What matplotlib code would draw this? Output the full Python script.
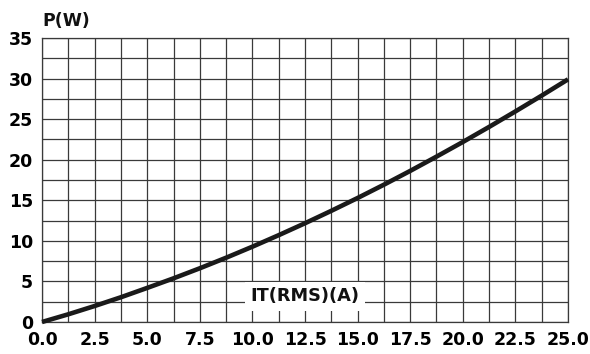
import matplotlib
matplotlib.use("Agg")
import matplotlib.pyplot as plt
import matplotlib.transforms as mtransforms
from matplotlib.ticker import MultipleLocator, FormatStrFormatter

# Data
current_a = [0.0, 1.25, 2.5, 3.75, 5.0, 6.25, 7.5, 8.75, 10.0, 11.25, 12.5,
             13.75, 15.0, 16.25, 17.5, 18.75, 20.0, 21.25, 22.5, 23.75, 25.0]
power_w = [0.0, 0.95, 1.97, 3.05, 4.2, 5.38, 6.62, 7.92, 9.28, 10.7, 12.17,
           13.7, 15.28, 16.92, 18.62, 20.38, 22.18, 24.04, 25.95, 27.9, 29.9]

x_label = "IT(RMS)(A)"
y_label = "P(W)"

plt.rcParams['font.family'] = ['DejaVu Sans']
plt.rcParams['font.weight'] = 'bold'

fig = plt.figure(figsize=(5.9, 3.54), dpi=100)
ax = fig.add_axes([0.0712, 0.0904, 0.8915, 0.8023])

grid_color = '#3a3a3a'
ax.set_xlim(0, 25)
ax.set_ylim(0, 35)
ax.xaxis.set_major_locator(MultipleLocator(2.5))
ax.xaxis.set_minor_locator(MultipleLocator(1.25))
ax.yaxis.set_major_locator(MultipleLocator(5))
ax.yaxis.set_minor_locator(MultipleLocator(2.5))
ax.xaxis.set_major_formatter(FormatStrFormatter('%.1f'))
ax.yaxis.set_major_formatter(FormatStrFormatter('%d'))
ax.grid(which='both', color=grid_color, linewidth=0.9)
ax.set_axisbelow(True)
for s in ax.spines.values():
    s.set_color(grid_color)
    s.set_linewidth(0.9)

ax.tick_params(which='both', length=0)
ax.tick_params(axis='x', pad=6.5, labelsize=12.5)
ax.tick_params(axis='y', pad=6.5, labelsize=12.5)
for lab in ax.get_xticklabels() + ax.get_yticklabels():
    lab.set_fontweight('bold')

# nudge the y "0" label up slightly, as in the reference
fig.canvas.draw()
ylabs = ax.get_yticklabels()
ylabs[0].set_transform(ylabs[0].get_transform() +
                       mtransforms.ScaledTranslation(0, 3 / 72, fig.dpi_scale_trans))

ax.plot(current_a, power_w, color='#1a1a1a', linewidth=3.3, solid_capstyle='butt',
        solid_joinstyle='round', clip_on=False, zorder=3)

ax.text(12.5, 3.15, x_label, ha='center', va='center', fontsize=12.8,
        fontweight='bold', color='#111111', zorder=4,
        bbox=dict(boxstyle='square,pad=0.3', facecolor='white', edgecolor='none'))

fig.text(0.0712, 0.94, y_label, ha='left', va='center', fontsize=12.5,
         fontweight='bold', color='#111111')

fig.savefig('out.png', dpi=100)
